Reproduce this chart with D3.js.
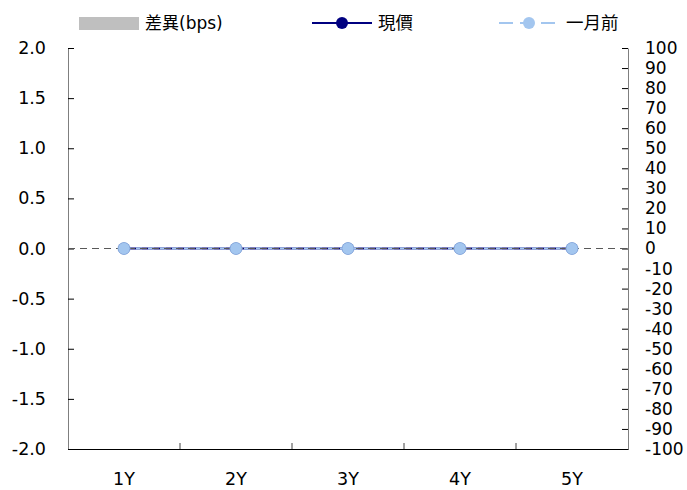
<!DOCTYPE html>
<html>
<head>
<meta charset="utf-8">
<script src="https://cdn.jsdelivr.net/npm/d3@7"></script>
<style>
  body { margin: 0; background: #fff; }
  svg text { font-family: "DejaVu Sans", "Noto Sans CJK TC", sans-serif; fill: #000; }
</style>
</head>
<body>
<div id="chart"></div>
<script>
"use strict";

const categories = ["1Y", "2Y", "3Y", "4Y", "5Y"];
const diffBps = [0, 0, 0, 0, 0];
const current = [0, 0, 0, 0, 0];
const monthAgo = [0, 0, 0, 0, 0];
const leftTicks = [-2.0, -1.5, -1.0, -0.5, 0.0, 0.5, 1.0, 1.5, 2.0];
const rightTicks = d3.range(-100, 101, 10);
const legendLabels = ["差異(bps)", "現價", "一月前"];

const width = 687;
const height = 490;
const margin = { top: 48, right: 59, bottom: 41, left: 68 };
const innerW = width - margin.left - margin.right;
const innerH = height - margin.top - margin.bottom;

const navy = "#000080";
const light = "#a3c6ef";
const barGray = "#bfbfbf";

// plain hyphen for negatives, like the source chart
const fmtLeft = (d) => d3.format(".1f")(d).replace("\u2212", "-");
const fmtRight = (d) => String(d);

const svg = d3.select("#chart").append("svg")
  .attr("width", width)
  .attr("height", height);

const g = svg.append("g").attr("transform", `translate(${margin.left},${margin.top})`);

const x = d3.scaleBand().domain(categories).range([0, innerW]).padding(0);
const y = d3.scaleLinear().domain([-2, 2]).range([innerH, 0]);
const yRight = d3.scaleLinear().domain([-100, 100]).range([innerH, 0]);

const cx = (d) => x(d) + x.bandwidth() / 2;

// left axis
const yAxis = g.append("g")
  .call(d3.axisLeft(y).tickValues(leftTicks).tickFormat(fmtLeft)
    .tickSizeInner(-6).tickSizeOuter(0).tickPadding(22));
yAxis.select(".domain").attr("stroke", "#7f7f7f");
yAxis.selectAll(".tick line").attr("stroke", "#000");
yAxis.selectAll("text").style("font-size", "17.5px").attr("fill", "#000");

// right axis
const yAxisR = g.append("g")
  .attr("transform", `translate(${innerW},0)`)
  .call(d3.axisRight(yRight).tickValues(rightTicks).tickFormat(fmtRight)
    .tickSizeInner(-6).tickSizeOuter(0).tickPadding(17));
yAxisR.select(".domain").attr("stroke", "#7f7f7f");
yAxisR.selectAll(".tick line").attr("stroke", "#000");
yAxisR.selectAll("text").style("font-size", "17px").attr("fill", "#000");

// bottom axis
const xAxis = g.append("g")
  .attr("transform", `translate(0,${innerH})`)
  .call(d3.axisBottom(x).tickSize(0).tickPadding(24));
xAxis.select(".domain").attr("stroke", "#000");
xAxis.selectAll("text").style("font-size", "17.5px").attr("fill", "#000");

xAxis.selectAll(".bound")
  .data(categories.slice(1))
  .join("line")
  .attr("class", "bound")
  .attr("x1", (d) => x(d))
  .attr("x2", (d) => x(d))
  .attr("y1", 0)
  .attr("y2", -6)
  .attr("stroke", "#444");

// bars (bps difference, right axis)
g.selectAll(".bar")
  .data(categories)
  .join("rect")
  .attr("class", "bar")
  .attr("x", (d) => x(d) + x.bandwidth() * 0.25)
  .attr("width", x.bandwidth() * 0.5)
  .attr("y", (d, i) => yRight(Math.max(0, diffBps[i])))
  .attr("height", (d, i) => Math.abs(yRight(diffBps[i]) - yRight(0)))
  .attr("fill", barGray);

const line = d3.line()
  .x((d) => cx(d.cat))
  .y((d) => y(d.v));

const curData = categories.map((c, i) => ({ cat: c, v: current[i] }));
const agoData = categories.map((c, i) => ({ cat: c, v: monthAgo[i] }));

g.append("path")
  .datum(curData)
  .attr("d", line)
  .attr("fill", "none")
  .attr("stroke", navy)
  .attr("stroke-width", 2);

g.append("path")
  .datum(agoData)
  .attr("d", line)
  .attr("fill", "none")
  .attr("stroke", light)
  .attr("stroke-width", 2)
  .attr("stroke-dasharray", "6,6");

// zero reference line
g.append("line")
  .attr("x1", 0)
  .attr("x2", innerW)
  .attr("y1", y(0))
  .attr("y2", y(0))
  .attr("stroke", "#595959")
  .attr("stroke-width", 1.2)
  .attr("stroke-dasharray", "7,5");

g.selectAll(".dot-cur")
  .data(curData)
  .join("circle")
  .attr("class", "dot-cur")
  .attr("cx", (d) => cx(d.cat))
  .attr("cy", (d) => y(d.v))
  .attr("r", 6)
  .attr("fill", navy);

g.selectAll(".dot-ago")
  .data(agoData)
  .join("circle")
  .attr("class", "dot-ago")
  .attr("cx", (d) => cx(d.cat))
  .attr("cy", (d) => y(d.v))
  .attr("r", 6)
  .attr("fill", light)
  .attr("stroke", "#8db3e2")
  .attr("stroke-width", 0.8);

// legend
const legend = svg.append("g");
const ly = 23;

legend.append("rect")
  .attr("x", 79).attr("y", ly - 6).attr("width", 60).attr("height", 13)
  .attr("fill", barGray);
legend.append("text")
  .attr("x", 145).attr("y", ly).attr("dy", "0.35em")
  .style("font-size", "17px").text(legendLabels[0]);

legend.append("line")
  .attr("x1", 312).attr("x2", 372).attr("y1", ly).attr("y2", ly)
  .attr("stroke", navy).attr("stroke-width", 2);
legend.append("circle")
  .attr("cx", 342).attr("cy", ly).attr("r", 6).attr("fill", navy);
legend.append("text")
  .attr("x", 378).attr("y", ly).attr("dy", "0.35em")
  .style("font-size", "17.5px").text(legendLabels[1]);

legend.append("line")
  .attr("x1", 499).attr("x2", 556).attr("y1", ly).attr("y2", ly)
  .attr("stroke", light).attr("stroke-width", 2)
  .attr("stroke-dasharray", "14,7");
legend.append("circle")
  .attr("cx", 529).attr("cy", ly).attr("r", 6).attr("fill", light);
legend.append("text")
  .attr("x", 566).attr("y", ly).attr("dy", "0.35em")
  .style("font-size", "17.5px").text(legendLabels[2]);
</script>
</body>
</html>
